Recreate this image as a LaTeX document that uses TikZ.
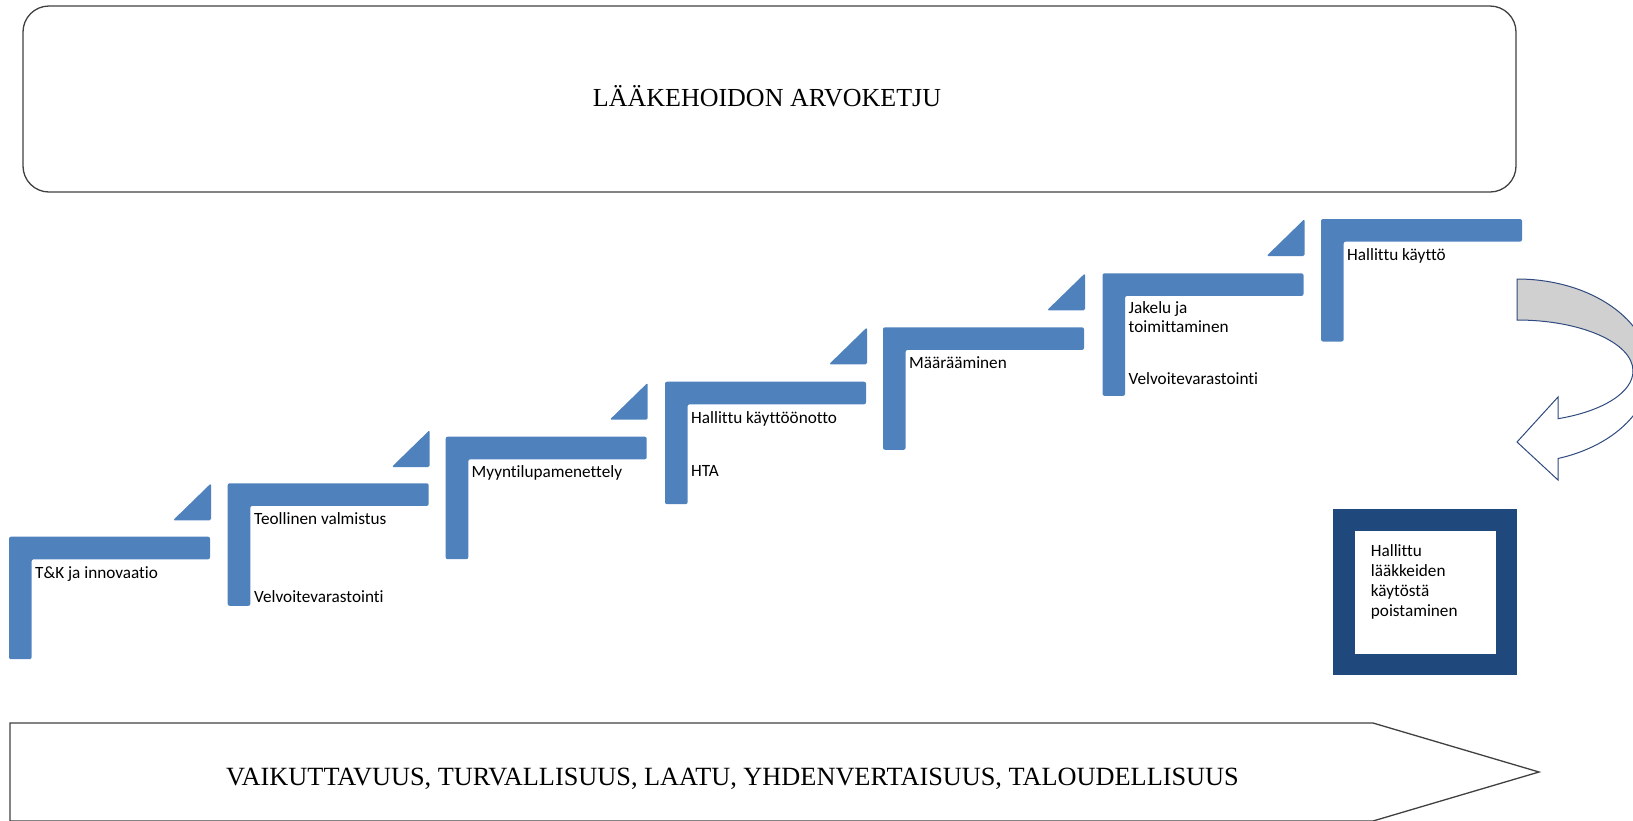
\documentclass[tikz,border=0pt]{standalone}
\usepackage{fontspec}
\setmainfont{Liberation Serif}
\newfontfamily\calibri[Ligatures=NoCommon]{Carlito}
\definecolor{stepblue}{HTML}{4F81BD}
\definecolor{boxblue}{HTML}{1F497D}
\definecolor{arrowline}{HTML}{2F4A7F}
\definecolor{arrowgray}{HTML}{D0D0D0}
\definecolor{frame}{HTML}{404040}
\tikzset{
  lstep/.pic={\fill[stepblue, rounded corners=2pt] (0,0) -- (201,0) -- (201,22.6) -- (22.6,22.6) -- (22.6,122.5) -- (0,122.5) -- cycle;},
  stairtri/.pic={\fill[stepblue, rounded corners=1.5pt] (0,0) -- (0,37) -- (-38,37) -- cycle;},
  lbl/.style={font=\calibri\fontsize{17.2}{20}\selectfont, anchor=base west, inner sep=0pt, text=black},
  bigtxt/.style={anchor=base, inner sep=0pt, text=black},
  framed/.style={draw=frame, line width=1.3pt}
}
\begin{document}
\begin{tikzpicture}[x=1pt,y=-1pt]
\useasboundingbox (0,0) rectangle (1633,820);
\begin{scope}
\clip (0,0) rectangle (1633,820);
% top rounded box
\draw[framed, rounded corners=26pt] (23,6) rectangle (1516,192);
\node[bigtxt, font=\fontsize{26}{30}\selectfont] (title) at (767,106) {LÄÄKEHOIDON ARVOKETJU};
% bottom arrow
\draw[framed] (10,723) -- (1373,723) -- (1539,772) -- (1373,821) -- (10,821) -- cycle;
\node[bigtxt, font=\fontsize{26.3}{30}\selectfont] (values) at (732.5,785) {VAIKUTTAVUUS, TURVALLISUUS, LAATU, YHDENVERTAISUUS, TALOUDELLISUUS};
% steps
\pic at (9,536.7) {lstep};
\pic at (227.7,483.3) {lstep};
\pic at (445.7,436.7) {lstep};
\pic at (665,381.7) {lstep};
\pic at (883,327.3) {lstep};
\pic at (1102.5,273.3) {lstep};
\pic at (1321,219) {lstep};
% triangles
\pic at (211,483.3) {stairtri};
\pic at (429.7,430) {stairtri};
\pic at (647.7,382.7) {stairtri};
\pic at (867,327.3) {stairtri};
\pic at (1085,273.3) {stairtri};
\pic at (1304.5,219) {stairtri};
% labels
\node[lbl] (s1) at (35,578) {T\&K ja innovaatio};
\node[lbl] (s2a) at (254,524) {Teollinen valmistus};
\node[lbl] (s2b) at (254,602) {Velvoitevarastointi};
\node[lbl] (s3) at (471.5,477) {Myyntilupamenettely};
\node[lbl] (s4a) at (691,423) {Hallittu käyttöönotto};
\node[lbl] (s4b) at (691,476) {HTA};
\node[lbl] (s5) at (909,368) {Määrääminen};
\node[lbl] (s6a) at (1128.5,313.3) {Jakelu ja};
\node[lbl] (s6b) at (1128.5,332.3) {toimittaminen};
\node[lbl] (s6c) at (1128.5,384) {Velvoitevarastointi};
\node[lbl] (s7) at (1347,260) {Hallittu käyttö};
% disposal box
\fill[boxblue] (1333,509) rectangle (1517,675);
\fill[white] (1355,531) rectangle (1496,654);
\node[lbl] (d1) at (1370.7,556.7) {Hallittu};
\node[lbl] (d2) at (1370.7,576.7) {lääkkeiden};
\node[lbl] (d3) at (1370.7,596.7) {käytöstä};
\node[lbl] (d4) at (1370.7,616.7) {poistaminen};
% curved arrow
\filldraw[fill=arrowgray, draw=arrowline, line width=1pt]
  (1517,279) arc[start angle=-90, end angle=0, x radius=133, y radius=92]
  -- (1633,371) arc[start angle=0, end angle=-90, x radius=116, y radius=51] -- cycle;
\filldraw[fill=white, draw=arrowline, line width=1pt]
  (1633,371) arc[start angle=0, end angle=69.3, x radius=116, y radius=51]
  -- (1558,397) -- (1517,442) -- (1558,480) -- (1558,458.5)
  arc[start angle=72.05, end angle=0, x radius=133, y radius=92] -- cycle;
\end{scope}
\end{tikzpicture}
\end{document}
